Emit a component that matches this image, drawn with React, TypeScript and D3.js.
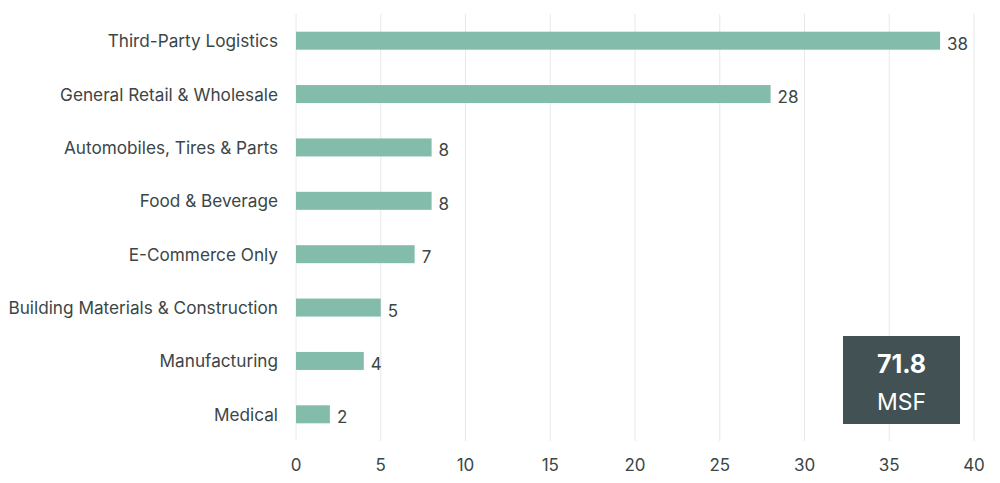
import React from "react";
import * as d3 from "d3";

const categories = [
  "Third-Party Logistics",
  "General Retail & Wholesale",
  "Automobiles, Tires & Parts",
  "Food & Beverage",
  "E-Commerce Only",
  "Building Materials & Construction",
  "Manufacturing",
  "Medical",
];
const values = [38, 28, 8, 8, 7, 5, 4, 2];
const xTicks = [0, 5, 10, 15, 20, 25, 30, 35, 40];
const totalValue = "71.8";
const totalUnit = "MSF";

const W = 1000;
const H = 483;
const FONT = "Inter, 'Open Sans', sans-serif";
const TEXT = "#3b4647";

export default function App() {
  const x = d3.scaleLinear().domain([0, 40]).range([296, 974]);
  const y = d3.scaleBand<string>().domain(categories).range([14, 441]).paddingInner(0.66).paddingOuter(0.33);
  const bh = 18;
  return (
    <svg width={W} height={H} style={{ position: "absolute", left: 0, top: 0, background: "#fff" }}>
      {xTicks.map((t) => (
        <g key={t}>
          <line x1={x(t)} x2={x(t)} y1={14} y2={441} stroke="#e6e8e8" strokeWidth={1} />
          <text x={x(t)} y={471} textAnchor="middle" fontFamily={FONT} fontSize={17} fill={TEXT}>
            {t}
          </text>
        </g>
      ))}
      {categories.map((c, i) => {
        const cy = (y(c) as number) + y.bandwidth() / 2;
        return (
          <g key={c}>
            <rect x={x(0)} y={cy - bh / 2} width={x(values[i]) - x(0)} height={bh} fill="#84bcac" />
            <text x={278} y={cy + 6.5} textAnchor="end" fontFamily={FONT} fontSize={17.2} fill={TEXT}>
              {c}
            </text>
            <text x={x(values[i]) + 7} y={cy + 9} fontFamily={FONT} fontSize={17} fill={TEXT}>
              {values[i]}
            </text>
          </g>
        );
      })}
      <rect x={843} y={336} width={117} height={88} fill="#425254" />
      <text x={901.5} y={373} textAnchor="middle" fontFamily={FONT} fontSize={25} fontWeight={700} fill="#fff">
        {totalValue}
      </text>
      <text x={901.5} y={410} textAnchor="middle" fontFamily={FONT} fontSize={23} fill="#fff">
        {totalUnit}
      </text>
    </svg>
  );
}
